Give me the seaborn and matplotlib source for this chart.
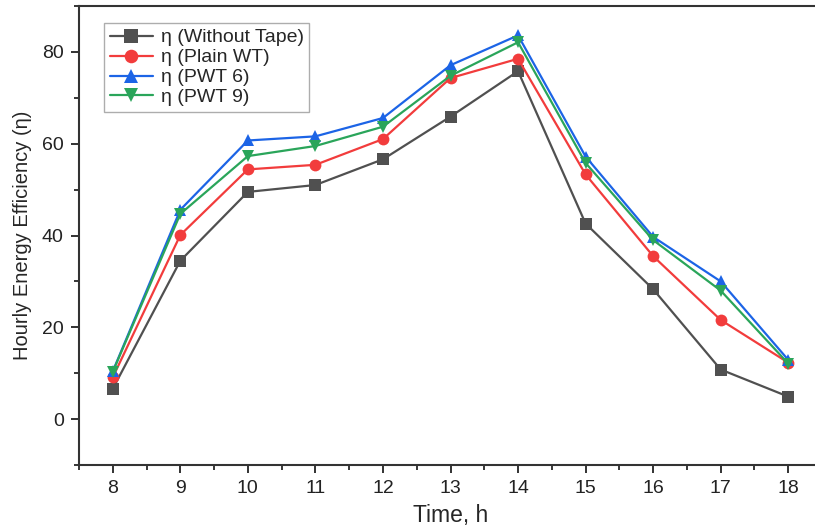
import pandas as pd
import seaborn as sns
from matplotlib import pyplot as plt
from matplotlib.ticker import MultipleLocator

hours = [8, 9, 10, 11, 12, 13, 14, 15, 16, 17, 18]
eta_without_tape = [6.6, 34.5, 49.5, 51.0, 56.6, 65.9, 75.8, 42.6, 28.3, 10.8, 4.9]
eta_plain_wt = [9.1, 40.1, 54.4, 55.4, 61.0, 74.3, 78.5, 53.3, 35.5, 21.6, 12.3]
eta_pwt6 = [10.4, 45.6, 60.7, 61.6, 65.6, 77.1, 83.6, 57.2, 39.7, 30.0, 12.9]
eta_pwt9 = [10.3, 44.7, 57.3, 59.5, 63.7, 74.8, 82.1, 55.8, 39.0, 28.0, 12.1]

labels = ["η (Without Tape)", "η (Plain WT)", "η (PWT 6)", "η (PWT 9)"]
colors = ["#505050", "#f23c3c", "#1c64e6", "#2aa55a"]
markers = ["s", "o", "^", "v"]

# armar dataframe en formato largo
df = pd.concat([
    pd.DataFrame({"Time": hours, "eta": vals, "serie": lab})
    for vals, lab in zip([eta_without_tape, eta_plain_wt, eta_pwt6, eta_pwt9], labels)
])

sns.set_theme(style="ticks")
plt.rcParams["font.family"] = ["Liberation Sans", "DejaVu Sans"]

fig = plt.figure(figsize=(8.15, 5.31), dpi=100)
ax = fig.add_axes([79 / 815, 1 - 465 / 531, (822 - 79) / 815, (465 - 6) / 531])

sns.lineplot(data=df, x="Time", y="eta", hue="serie", style="serie",
             palette=dict(zip(labels, colors)), markers=dict(zip(labels, markers)),
             dashes=False, markersize=8.5, markeredgewidth=0, linewidth=1.6, ax=ax)

ax.set_xlim(7.5, 18.5)
ax.set_ylim(-10, 90)
ax.set_xticks(hours)
ax.xaxis.set_minor_locator(MultipleLocator(0.5))
ax.set_yticks([0, 20, 40, 60, 80])
ax.yaxis.set_minor_locator(MultipleLocator(10))
ax.tick_params(which="major", length=6, width=1.3, labelsize=14, colors="#222222", pad=5)
ax.tick_params(which="minor", length=3.5, width=1.3)
for side in ["left", "bottom", "top", "right"]:
    ax.spines[side].set_linewidth(1.5)
    ax.spines[side].set_color("#333333")

ax.set_xlabel("Time, h", fontsize=16.5, labelpad=5)
ax.set_ylabel("Hourly Energy Efficiency (η)", fontsize=14.5, labelpad=7)

leg = ax.legend(loc="upper left", bbox_to_anchor=(0.034, 0.963), fontsize=14,
                frameon=True, fancybox=False, edgecolor="#999999", markerscale=1.15,
                handlelength=2.2, borderpad=0.3, labelspacing=0.12, handletextpad=0.4,
                borderaxespad=0)

fig.savefig("out.png", dpi=100)
